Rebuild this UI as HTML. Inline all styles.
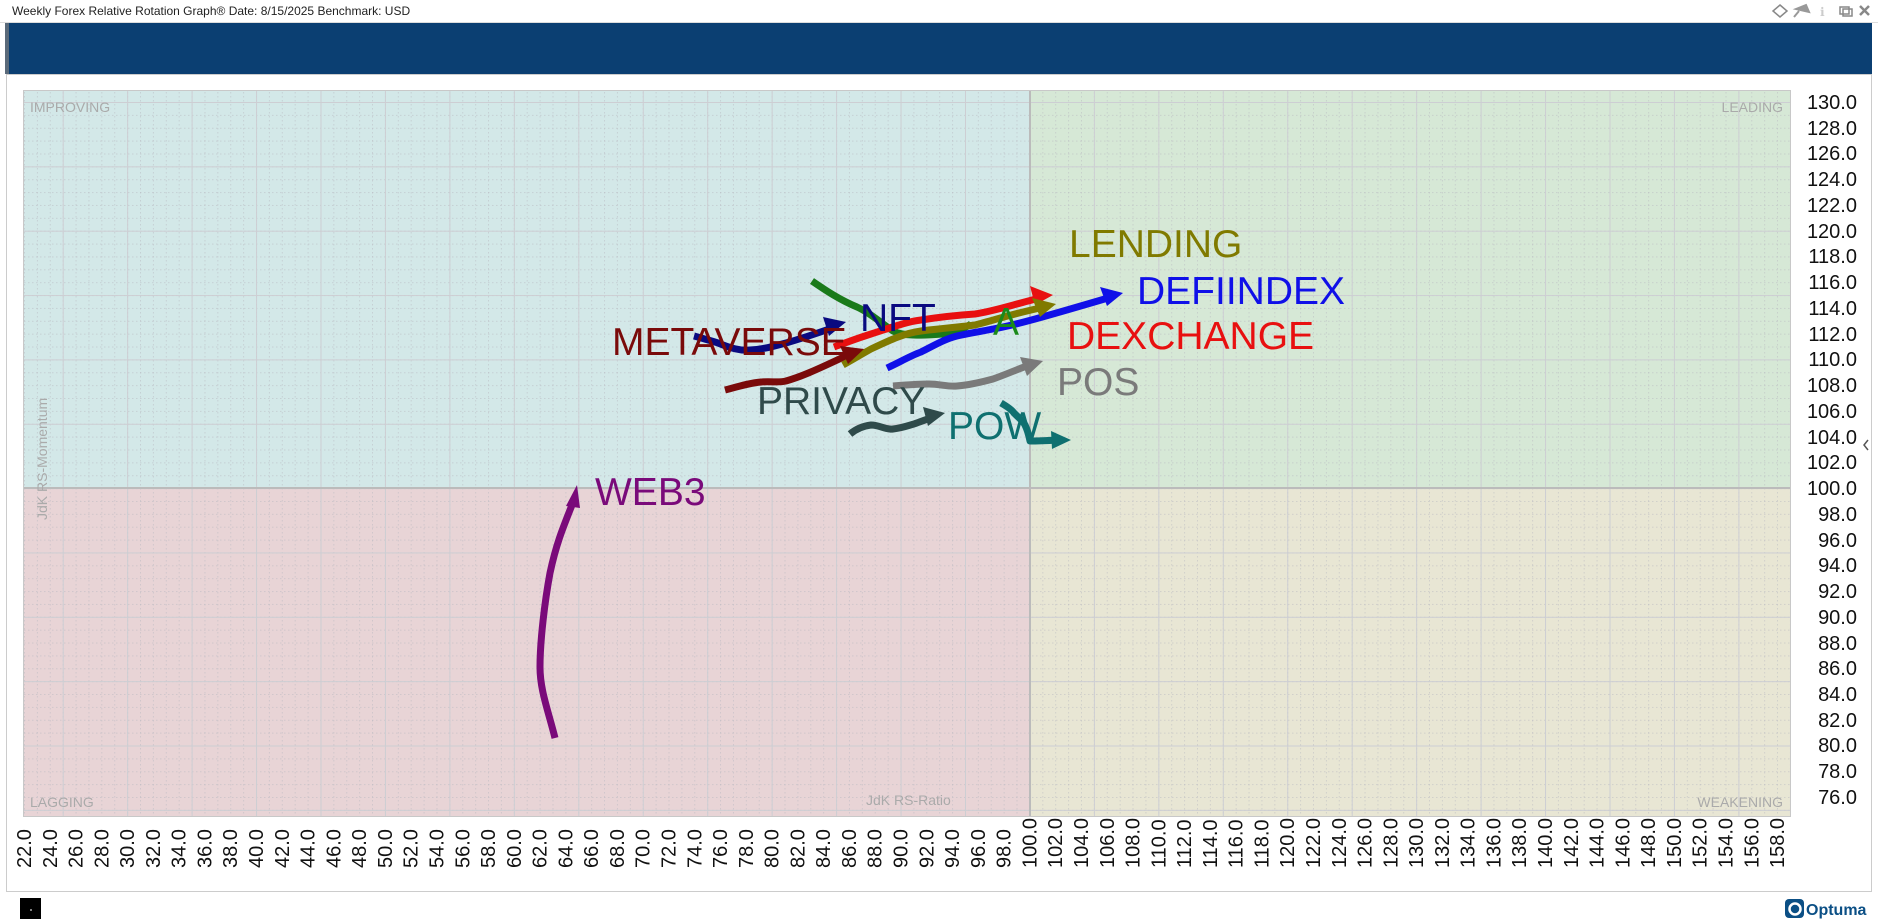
<!DOCTYPE html>
<html><head><meta charset="utf-8"><style>
html,body{margin:0;padding:0;background:#fff;}
svg{display:block;font-family:"Liberation Sans","DejaVu Sans",sans-serif;}
</style></head><body>
<svg width="1878" height="919" viewBox="0 0 1878 919" xmlns="http://www.w3.org/2000/svg">
<defs>
<pattern id="minx" x="24" y="0" width="12.89" height="4" patternUnits="userSpaceOnUse"><rect x="0" y="0" width="1" height="1.5" fill="#b8b8c0" opacity="0.5"/></pattern>
<pattern id="miny" x="0" y="102" width="4" height="12.87" patternUnits="userSpaceOnUse"><rect x="0" y="0" width="1.5" height="1" fill="#b8b8c0" opacity="0.5"/></pattern>
<pattern id="majx" x="62.7" y="0" width="64.45" height="10" patternUnits="userSpaceOnUse"><rect x="0" y="0" width="1" height="10" fill="#cdced3"/></pattern>
<pattern id="majy" x="0" y="102" width="10" height="64.35" patternUnits="userSpaceOnUse"><rect x="0" y="0" width="10" height="1" fill="#cdced3"/></pattern>
</defs>
<text x="12" y="15" font-size="12" fill="#222">Weekly Forex Relative Rotation Graph®   Date: 8/15/2025  Benchmark:  USD</text>
<g fill="none" stroke="#888" stroke-width="1.5">
<path d="M1780 5 L1787 11 L1780 17 L1773 11 Z"/>
<rect x="1840" y="7" width="9" height="7"/><rect x="1843" y="9" width="9" height="7"/>
<path d="M1860 6 L1869 15 M1869 6 L1860 15" stroke-width="2.5"/>
</g>
<path d="M1796 9 L1806 5 L1809 12 Z M1799 11 L1794 17" stroke="#999" stroke-width="2" fill="#999"/>
<text x="1820" y="16" font-size="12" fill="#ccc">ℹ</text>
<line x1="0" y1="22.5" x2="1878" y2="22.5" stroke="#ddd"/>
<rect x="5" y="23" width="1867" height="51" fill="#0b3f72"/>
<rect x="5" y="23" width="4" height="51" fill="#5a6a7a"/>
<rect x="6.5" y="74.5" width="1865" height="817" fill="none" stroke="#ccc"/>
<rect x="23" y="90" width="1007" height="398" fill="#d3e8e8"/>
<rect x="1030" y="90" width="761" height="398" fill="#d6e8d6"/>
<rect x="23" y="488" width="1007" height="329" fill="#e8d4d6"/>
<rect x="1030" y="488" width="761" height="329" fill="#e8e6d4"/>
<rect x="23" y="90" width="1768" height="727" fill="url(#minx)"/>
<rect x="23" y="90" width="1768" height="727" fill="url(#miny)"/>
<rect x="23" y="90" width="1768" height="727" fill="url(#majx)"/>
<rect x="23" y="90" width="1768" height="727" fill="url(#majy)"/>
<line x1="1030" y1="90" x2="1030" y2="817" stroke="#bbb" stroke-width="2"/>
<line x1="23" y1="488" x2="1791" y2="488" stroke="#bbb" stroke-width="2"/>
<rect x="23.5" y="90.5" width="1767" height="726" fill="none" stroke="#c8c8c8"/>
<g font-size="14" fill="#aaa">
<text x="30" y="112">IMPROVING</text>
<text x="1783" y="112" text-anchor="end">LEADING</text>
<text x="30" y="807">LAGGING</text>
<text x="1783" y="807" text-anchor="end">WEAKENING</text>
<text x="866" y="805">JdK RS-Ratio</text>
<text transform="rotate(-90 47 520)" x="47" y="520">JdK RS-Momentum</text>
</g>
<g fill="none" stroke-width="7" stroke-linecap="butt" stroke-linejoin="round">
<path d="M812 281 C825 290 840 300 857 307 C870 313 880 322 893 331 C905 337 925 335 943 334 C955 333 965 328 971 324" stroke="#1a7a1a"/>
<path d="M555 738 C548 710 540 690 540 667 C540 640 545 600 550 573 C556 545 562 530 572 505" stroke="#7a0a7a"/>
<path d="M694 336 C705 339 712 341 718 343 C730 348 740 351 750 350 C765 349 775 346 786 343 C800 339 815 334 835 327" stroke="#0a0a80"/>
<path d="M725 390 C740 386 750 383 761 382 C772 381 778 383 786 381 C800 377 812 372 850 354" stroke="#7a0a0a"/>
<path d="M834 347 C845 343 858 338 871 334 C890 328 905 322 921 320 C940 317 960 315 975 314 C995 311 1015 304 1040 298" stroke="#e81010"/>
<path d="M843 365 C852 360 862 354 871 349 C890 340 905 333 921 331 C945 328 960 327 975 325 C995 320 1015 313 1045 307" stroke="#807a00"/>
<path d="M887 368 C900 362 910 356 921 352 C935 345 945 339 957 336 C970 333 983 331 993 329 C1015 325 1040 318 1108 298" stroke="#1010e8"/>
<path d="M893 386 C905 385 918 384 929 384 C940 384 948 387 957 386 C970 385 982 382 993 379 C1010 373 1020 368 1030 365" stroke="#7a7a7a"/>
<path d="M850 434 C856 429 863 426 871 425 C880 425 885 430 893 429 C902 428 907 426 914 424 C922 421 928 419 933 417" stroke="#2f4a4a"/>
<path d="M1001 403 C1008 407 1012 410 1014 413 C1019 418 1023 421 1025 425 C1028 431 1029 436 1030 441 C1035 441 1040 441 1058 440" stroke="#0f7070"/>
</g>
<g stroke="none">
<path d="M1053 295 L1030 286 L1035 305 Z" fill="#e81010"/>
<path d="M1056 304 L1032 298 L1040 317 Z" fill="#807a00"/>
<path d="M1123 293 L1100 287 L1107 306 Z" fill="#1010e8"/>
<path d="M846 322 L823 317 L829 336 Z" fill="#0a0a80"/>
<path d="M864 349 L840 346 L848 364 Z" fill="#7a0a0a"/>
<path d="M1043 361 L1020 357 L1027 376 Z" fill="#7a7a7a"/>
<path d="M945 413 L923 407 L928 426 Z" fill="#2f4a4a"/>
<path d="M1071 440 L1051 431 L1052 449 Z" fill="#0f7070"/>
<path d="M577 485 L566 506 L580 508 Z" fill="#7a0a7a"/>
</g>
<g font-size="39">
<text x="1069" y="257" fill="#807a00">LENDING</text>
<text x="1137" y="304" fill="#1010e8">DEFIINDEX</text>
<text x="1067" y="349" fill="#e81010">DEXCHANGE</text>
<text x="612" y="355" fill="#7a0a0a">METAVERSE</text>
<text x="860" y="331" fill="#0a0a80">NFT</text>
<text x="993" y="335" fill="#1a8a1a">A</text>
<text x="1057" y="395" fill="#7a7a7a">POS</text>
<text x="757" y="414" fill="#2f4a4a">PRIVACY</text>
<text x="948" y="439" fill="#0f7070">POW</text>
<text x="595" y="505" fill="#7a0a7a">WEB3</text>
</g>
<g font-size="20" fill="#111" text-anchor="end">
<text x="1857" y="109">130.0</text><text x="1857" y="135">128.0</text><text x="1857" y="160">126.0</text><text x="1857" y="186">124.0</text><text x="1857" y="212">122.0</text><text x="1857" y="238">120.0</text><text x="1857" y="263">118.0</text><text x="1857" y="289">116.0</text><text x="1857" y="315">114.0</text><text x="1857" y="341">112.0</text><text x="1857" y="366">110.0</text><text x="1857" y="392">108.0</text><text x="1857" y="418">106.0</text><text x="1857" y="444">104.0</text><text x="1857" y="469">102.0</text><text x="1857" y="495">100.0</text><text x="1857" y="521">98.0</text><text x="1857" y="547">96.0</text><text x="1857" y="572">94.0</text><text x="1857" y="598">92.0</text><text x="1857" y="624">90.0</text><text x="1857" y="650">88.0</text><text x="1857" y="675">86.0</text><text x="1857" y="701">84.0</text><text x="1857" y="727">82.0</text><text x="1857" y="752">80.0</text><text x="1857" y="778">78.0</text><text x="1857" y="804">76.0</text>
</g>
<path d="M1868 440 L1864 445 L1868 450" stroke="#555" stroke-width="1.5" fill="none"/>
<g font-size="20" fill="#111">
<text transform="rotate(-90 31 868)" x="31" y="868">22.0</text>
<text transform="rotate(-90 56.8 868)" x="56.8" y="868">24.0</text>
<text transform="rotate(-90 82.6 868)" x="82.6" y="868">26.0</text>
<text transform="rotate(-90 108.3 868)" x="108.3" y="868">28.0</text>
<text transform="rotate(-90 134.1 868)" x="134.1" y="868">30.0</text>
<text transform="rotate(-90 159.9 868)" x="159.9" y="868">32.0</text>
<text transform="rotate(-90 185.7 868)" x="185.7" y="868">34.0</text>
<text transform="rotate(-90 211.5 868)" x="211.5" y="868">36.0</text>
<text transform="rotate(-90 237.2 868)" x="237.2" y="868">38.0</text>
<text transform="rotate(-90 263 868)" x="263" y="868">40.0</text>
<text transform="rotate(-90 288.8 868)" x="288.8" y="868">42.0</text>
<text transform="rotate(-90 314.6 868)" x="314.6" y="868">44.0</text>
<text transform="rotate(-90 340.4 868)" x="340.4" y="868">46.0</text>
<text transform="rotate(-90 366.1 868)" x="366.1" y="868">48.0</text>
<text transform="rotate(-90 391.9 868)" x="391.9" y="868">50.0</text>
<text transform="rotate(-90 417.7 868)" x="417.7" y="868">52.0</text>
<text transform="rotate(-90 443.5 868)" x="443.5" y="868">54.0</text>
<text transform="rotate(-90 469.3 868)" x="469.3" y="868">56.0</text>
<text transform="rotate(-90 495 868)" x="495" y="868">58.0</text>
<text transform="rotate(-90 520.8 868)" x="520.8" y="868">60.0</text>
<text transform="rotate(-90 546.6 868)" x="546.6" y="868">62.0</text>
<text transform="rotate(-90 572.4 868)" x="572.4" y="868">64.0</text>
<text transform="rotate(-90 598.2 868)" x="598.2" y="868">66.0</text>
<text transform="rotate(-90 623.9 868)" x="623.9" y="868">68.0</text>
<text transform="rotate(-90 649.7 868)" x="649.7" y="868">70.0</text>
<text transform="rotate(-90 675.5 868)" x="675.5" y="868">72.0</text>
<text transform="rotate(-90 701.3 868)" x="701.3" y="868">74.0</text>
<text transform="rotate(-90 727.1 868)" x="727.1" y="868">76.0</text>
<text transform="rotate(-90 752.8 868)" x="752.8" y="868">78.0</text>
<text transform="rotate(-90 778.6 868)" x="778.6" y="868">80.0</text>
<text transform="rotate(-90 804.4 868)" x="804.4" y="868">82.0</text>
<text transform="rotate(-90 830.2 868)" x="830.2" y="868">84.0</text>
<text transform="rotate(-90 856 868)" x="856" y="868">86.0</text>
<text transform="rotate(-90 881.7 868)" x="881.7" y="868">88.0</text>
<text transform="rotate(-90 907.5 868)" x="907.5" y="868">90.0</text>
<text transform="rotate(-90 933.3 868)" x="933.3" y="868">92.0</text>
<text transform="rotate(-90 959.1 868)" x="959.1" y="868">94.0</text>
<text transform="rotate(-90 984.9 868)" x="984.9" y="868">96.0</text>
<text transform="rotate(-90 1010.6 868)" x="1010.6" y="868">98.0</text>
<text transform="rotate(-90 1036.4 868)" x="1036.4" y="868">100.0</text>
<text transform="rotate(-90 1062.2 868)" x="1062.2" y="868">102.0</text>
<text transform="rotate(-90 1088 868)" x="1088" y="868">104.0</text>
<text transform="rotate(-90 1113.8 868)" x="1113.8" y="868">106.0</text>
<text transform="rotate(-90 1139.5 868)" x="1139.5" y="868">108.0</text>
<text transform="rotate(-90 1165.3 868)" x="1165.3" y="868">110.0</text>
<text transform="rotate(-90 1191.1 868)" x="1191.1" y="868">112.0</text>
<text transform="rotate(-90 1216.9 868)" x="1216.9" y="868">114.0</text>
<text transform="rotate(-90 1242.7 868)" x="1242.7" y="868">116.0</text>
<text transform="rotate(-90 1268.4 868)" x="1268.4" y="868">118.0</text>
<text transform="rotate(-90 1294.2 868)" x="1294.2" y="868">120.0</text>
<text transform="rotate(-90 1320 868)" x="1320" y="868">122.0</text>
<text transform="rotate(-90 1345.8 868)" x="1345.8" y="868">124.0</text>
<text transform="rotate(-90 1371.6 868)" x="1371.6" y="868">126.0</text>
<text transform="rotate(-90 1397.3 868)" x="1397.3" y="868">128.0</text>
<text transform="rotate(-90 1423.1 868)" x="1423.1" y="868">130.0</text>
<text transform="rotate(-90 1448.9 868)" x="1448.9" y="868">132.0</text>
<text transform="rotate(-90 1474.7 868)" x="1474.7" y="868">134.0</text>
<text transform="rotate(-90 1500.5 868)" x="1500.5" y="868">136.0</text>
<text transform="rotate(-90 1526.2 868)" x="1526.2" y="868">138.0</text>
<text transform="rotate(-90 1552 868)" x="1552" y="868">140.0</text>
<text transform="rotate(-90 1577.8 868)" x="1577.8" y="868">142.0</text>
<text transform="rotate(-90 1603.6 868)" x="1603.6" y="868">144.0</text>
<text transform="rotate(-90 1629.4 868)" x="1629.4" y="868">146.0</text>
<text transform="rotate(-90 1655.1 868)" x="1655.1" y="868">148.0</text>
<text transform="rotate(-90 1680.9 868)" x="1680.9" y="868">150.0</text>
<text transform="rotate(-90 1706.7 868)" x="1706.7" y="868">152.0</text>
<text transform="rotate(-90 1732.5 868)" x="1732.5" y="868">154.0</text>
<text transform="rotate(-90 1758.3 868)" x="1758.3" y="868">156.0</text>
<text transform="rotate(-90 1784 868)" x="1784" y="868">158.0</text>
</g>
<rect x="20" y="898" width="21" height="21" fill="#000"/>
<circle cx="31" cy="910" r="1" fill="#aaa"/>
<rect x="1785" y="899" width="19" height="19" rx="4" fill="#0b4f85"/>
<circle cx="1795" cy="909" r="5.5" fill="none" stroke="#fff" stroke-width="2.5"/>
<text x="1806" y="915" font-size="16" font-weight="bold" fill="#0b4f85">Optuma</text>
</svg>
</body></html>
